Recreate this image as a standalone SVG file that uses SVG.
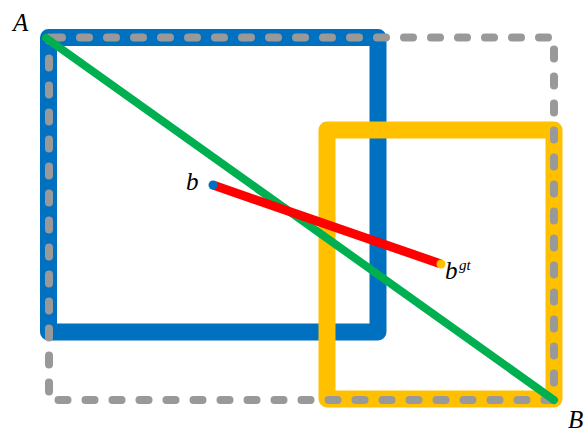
<svg xmlns="http://www.w3.org/2000/svg" width="584" height="428" viewBox="0 0 584 428">
<style>
.lbl{font-family:"Liberation Serif",serif;font-style:italic;font-size:25px;fill:#000}
.sup{font-family:"Liberation Serif",serif;font-style:italic;font-size:15px;fill:#000}
</style>
<rect width="584" height="428" fill="#fff"/>
<g id="blue-box"><rect x="48.5" y="37.5" width="329.5" height="294.5" fill="none" stroke="#0070C0" stroke-width="17" stroke-linejoin="round"/></g>
<g id="yellow-box"><rect x="327" y="130" width="227" height="269" fill="none" stroke="#FFC000" stroke-width="17" stroke-linejoin="round"/></g>
<g id="gray-box"><rect x="49" y="37.5" width="505" height="362.5" fill="none" stroke="#999" stroke-width="8" stroke-dasharray="9 18" stroke-linecap="round" stroke-dashoffset="-4"/></g>
<g id="connectors">
<line id="diag" x1="46" y1="38" x2="554" y2="400" stroke="#00B050" stroke-width="8" stroke-linecap="round"/>
<line id="offset" x1="213" y1="185" x2="441" y2="264" stroke="#FF0000" stroke-width="9"/>
</g>
<g id="b"><circle cx="213" cy="185" r="4.5" fill="#0070C0"/><text class="lbl" x="186" y="190">b</text></g>
<g id="bgt"><circle cx="441" cy="264" r="4.5" fill="#FFC000"/><text class="lbl" x="445" y="279">b</text><text class="sup" x="459" y="270">gt</text></g>
<g id="A"><text class="lbl" x="13" y="31">A</text></g>
<g id="B"><text class="lbl" x="568" y="428">B</text></g>
</svg>
